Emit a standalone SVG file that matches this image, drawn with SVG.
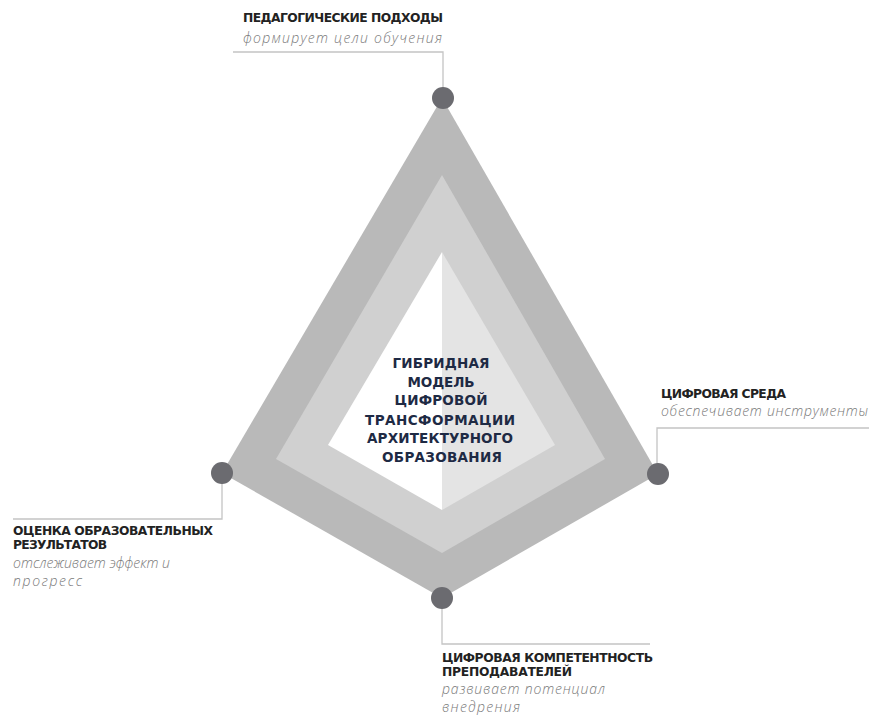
<svg xmlns="http://www.w3.org/2000/svg" width="869" height="718" viewBox="0 0 869 718">
<style>
.t{font-family:"DejaVu Sans","Liberation Sans",sans-serif;font-weight:bold;font-size:12.3px;fill:#222}
.s{font-family:"Open Sans","DejaVu Sans",sans-serif;font-style:italic;font-weight:300;font-size:14px;fill:#7a7a7a}
.c{font-family:"DejaVu Sans","Liberation Sans",sans-serif;font-weight:bold;font-size:13.5px;fill:#1e2a44;text-anchor:middle}
.ln{fill:none;stroke:#c4c4c4;stroke-width:1.3}
.dot{fill:#6b6b70}
</style>
<rect width="869" height="718" fill="#fff"/>
<g id="diamond">
<polygon points="442,98 658,474 442,598 222,473" fill="#b9b9b9"/>
<polygon points="442,175 605,459 442,553 276,459" fill="#d0d0d0"/>
<polygon points="442,252 442,510 328,445" fill="#ffffff"/>
<polygon points="442,252 555,445 442,510" fill="#e4e4e4"/>
</g>
<g id="connectors">
<polyline class="ln" points="233,52 443,52 443,90"/>
<polyline class="ln" points="869,428 657,428 657,466"/>
<polyline class="ln" points="222,480 222,519 13,519"/>
<polyline class="ln" points="442,605 442,644 650,644"/>
</g>
<g id="center">
<text class="c" x="441" y="368" textLength="97">ГИБРИДНАЯ</text>
<text class="c" x="441" y="387" textLength="67">МОДЕЛЬ</text>
<text class="c" x="441" y="405" textLength="93">ЦИФРОВОЙ</text>
<text class="c" x="440" y="425" textLength="150">ТРАНСФОРМАЦИИ</text>
<text class="c" x="440" y="443" textLength="146">АРХИТЕКТУРНОГО</text>
<text class="c" x="442" y="462" textLength="120">ОБРАЗОВАНИЯ</text>
</g>
<g id="node-top">
<circle class="dot" cx="443" cy="98" r="11"/>
<text class="t" x="243" y="22" textLength="200">ПЕДАГОГИЧЕСКИЕ ПОДХОДЫ</text>
<text class="s" x="243" y="43" textLength="199">формирует цели обучения</text>
</g>
<g id="node-right">
<circle class="dot" cx="658" cy="474" r="11"/>
<text class="t" x="661" y="398" textLength="125">ЦИФРОВАЯ СРЕДА</text>
<text class="s" x="661" y="416" textLength="207">обеспечивает инструменты</text>
</g>
<g id="node-left">
<circle class="dot" cx="222" cy="473" r="11"/>
<text class="t" x="13" y="535" textLength="200">ОЦЕНКА ОБРАЗОВАТЕЛЬНЫХ</text>
<text class="t" x="13" y="549" textLength="94">РЕЗУЛЬТАТОВ</text>
<text class="s" x="13" y="568" textLength="157">отслеживает эффект и</text>
<text class="s" x="13" y="586" textLength="69">прогресс</text>
</g>
<g id="node-bottom">
<circle class="dot" cx="442" cy="598" r="11"/>
<text class="t" x="442" y="662" textLength="211">ЦИФРОВАЯ КОМПЕТЕНТНОСТЬ</text>
<text class="t" x="442" y="676" textLength="130">ПРЕПОДАВАТЕЛЕЙ</text>
<text class="s" x="442" y="694" textLength="163">развивает потенциал</text>
<text class="s" x="442" y="712" textLength="78">внедрения</text>
</g>
</svg>
